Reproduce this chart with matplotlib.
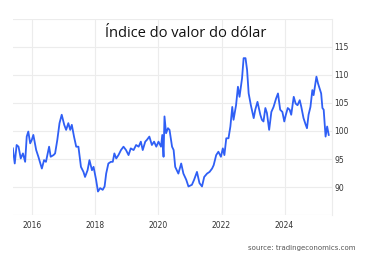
import matplotlib.pyplot as plt

# US dollar index (decimal year, index value)
years = [2015.38, 2015.44, 2015.50, 2015.56, 2015.63, 2015.70, 2015.77, 2015.82,
         2015.87, 2015.93, 2015.98, 2016.03, 2016.12, 2016.19, 2016.30, 2016.37,
         2016.43, 2016.53, 2016.58, 2016.67, 2016.72, 2016.79, 2016.86, 2016.93,
         2017.01, 2017.07, 2017.14, 2017.20, 2017.25, 2017.32, 2017.39, 2017.46,
         2017.54, 2017.62, 2017.67, 2017.75, 2017.81, 2017.89, 2017.94, 2018.02,
         2018.08, 2018.15, 2018.23, 2018.29, 2018.34, 2018.41, 2018.49, 2018.55,
         2018.60, 2018.66, 2018.73, 2018.81, 2018.89, 2018.97, 2019.05, 2019.12,
         2019.21, 2019.29, 2019.37, 2019.44, 2019.50, 2019.58, 2019.63, 2019.71,
         2019.79, 2019.86, 2019.93, 2020.00, 2020.08, 2020.12, 2020.16, 2020.19,
         2020.24, 2020.30, 2020.35, 2020.43, 2020.48, 2020.53, 2020.63, 2020.72,
         2020.79, 2020.88, 2020.95, 2021.06, 2021.13, 2021.22, 2021.30, 2021.38,
         2021.45, 2021.54, 2021.62, 2021.70, 2021.75, 2021.83, 2021.90, 2021.98,
         2022.04, 2022.09, 2022.15, 2022.22, 2022.28, 2022.34, 2022.38, 2022.46,
         2022.52, 2022.57, 2022.65, 2022.70, 2022.76, 2022.81, 2022.86, 2022.93,
         2023.02, 2023.07, 2023.14, 2023.23, 2023.28, 2023.33, 2023.39, 2023.44,
         2023.51, 2023.58, 2023.65, 2023.73, 2023.79, 2023.86, 2023.93, 2023.99,
         2024.04, 2024.10, 2024.16, 2024.21, 2024.29, 2024.35, 2024.41, 2024.48,
         2024.53, 2024.60, 2024.67, 2024.71, 2024.76, 2024.82, 2024.88, 2024.92,
         2025.01, 2025.06, 2025.11, 2025.16, 2025.20, 2025.24, 2025.30, 2025.35,
         2025.40]
values = [96.9, 94.2, 97.5, 97.2, 95.1, 96.0, 94.5, 99.0,
          99.9, 97.8, 98.4, 99.3, 96.6, 95.4, 93.3, 94.8,
          94.5, 97.2, 95.4, 95.7, 96.0, 98.4, 101.4, 102.9,
          101.1, 100.2, 101.4, 100.2, 101.1, 99.0, 97.2, 97.2,
          93.6, 92.7, 91.8, 93.0, 94.8, 93.0, 93.6, 91.3,
          89.2, 89.8, 89.5, 90.1, 92.4, 94.2, 94.5, 94.5,
          96.0, 95.1, 95.7, 96.6, 97.2, 96.6, 95.7, 96.9,
          96.6, 97.5, 97.2, 98.1, 96.6, 98.1, 98.4, 99.0,
          97.5, 98.1, 97.2, 98.1, 97.2, 99.3, 95.4, 102.6,
          99.6, 100.5, 100.2, 97.2, 96.6, 93.6, 92.4, 94.2,
          92.4, 91.3, 90.1, 90.4, 91.3, 92.7, 90.7, 90.1,
          91.8, 92.4, 92.7, 93.3, 93.9, 95.7, 96.3, 95.4,
          96.9, 95.7, 98.7, 98.7, 100.8, 104.3, 102.0, 104.6,
          107.9, 106.1, 109.4, 113.0, 113.0, 110.9, 106.7, 104.6,
          102.3, 103.8, 105.2, 102.9, 102.0, 101.7, 104.1, 103.2,
          100.2, 103.4, 104.3, 105.8, 106.7, 103.8, 103.4, 101.7,
          102.9, 104.1, 103.8, 102.9, 106.1, 104.9, 104.6, 105.5,
          104.3, 102.3, 101.1, 100.5, 102.9, 104.3, 107.3, 106.4,
          109.7, 108.5, 107.6, 106.7, 104.1, 103.8, 99.0, 100.8,
          99.3]

year_ticks = [2016, 2018, 2020, 2022, 2024]
value_ticks = [90, 95, 100, 105, 110, 115]

fig = plt.figure(figsize=(3.78, 2.56), dpi=100)
ax = fig.add_axes([0.034, 0.160, 0.844, 0.766])

ax.plot(years, values, color='#2f5ff5', lw=1.3)

ax.set_xlim(2015.38, 2025.50)
ax.set_ylim(85, 120)

# light grid, also at 85 and 120 (unlabelled)
for v in range(85, 121, 5):
    ax.axhline(v, color='#ececec', lw=0.8, zorder=0)
for y in year_ticks:
    ax.axvline(y, color='#ececec', lw=0.8, zorder=0)

ax.set_xticks(year_ticks)
ax.set_xticklabels([str(y) for y in year_ticks])
ax.yaxis.tick_right()
ax.set_yticks(value_ticks)
ax.set_yticklabels([str(v) for v in value_ticks])
ax.tick_params(length=0, labelsize=5.5, colors='#333333')
ax.tick_params(axis='x', pad=4)
ax.tick_params(axis='y', pad=2)

for s in ['top', 'left', 'bottom']:
    ax.spines[s].set_visible(False)
ax.spines['right'].set_color('#ececec')
ax.spines['right'].set_linewidth(0.8)

fig.text(0.492, 0.87, 'Índice do valor do dólar', ha='center', va='center',
         fontsize=10.5, family='Open Sans', color='#111111')
fig.text(0.94, 0.032, 'source: tradingeconomics.com', ha='right', va='center',
         fontsize=5, color='#555555')

fig.savefig('out.png', dpi=100)
